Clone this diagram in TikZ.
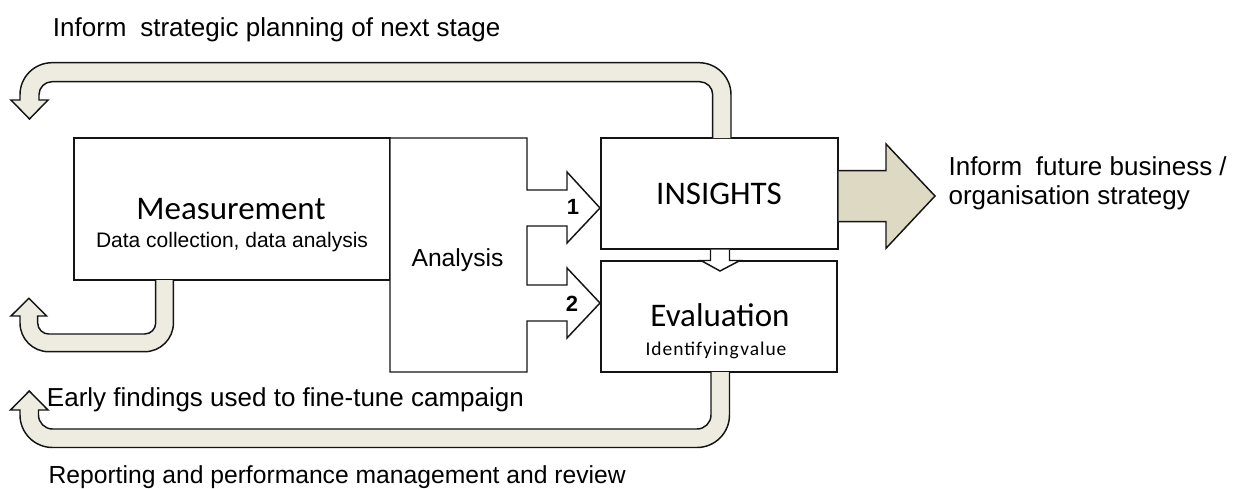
\documentclass[tikz,border=0pt]{standalone}
\usepackage{fontspec}
\setmainfont{Liberation Sans}
\newfontfamily\calfont{Carlito}
\newfontfamily\calspaced[LetterSpace=5]{Carlito}
\usetikzlibrary{fit}
\definecolor{tanlight}{RGB}{238,236,225}
\definecolor{tandark}{RGB}{221,217,195}
\definecolor{edge}{RGB}{20,20,20}
\begin{document}
\begin{tikzpicture}[x=0.75pt,y=-0.75pt,
  box/.style={draw=edge,line width=1.1pt,fill=white,inner sep=0pt},
  uarrow/.style={fill=tanlight,draw=edge,line width=1.1pt,line join=miter},
  bigarrow/.style={fill=tandark,draw=edge,line width=1.1pt},
  plain/.style={draw=edge,line width=1.1pt,fill=white,line join=miter},
  labeltxt/.style={inner sep=0pt,font=\fontsize{19.5}{23}\selectfont},
  arialtxt/.style={inner sep=0pt,font=\fontsize{18.5}{22}\selectfont},
  smalltxt/.style={inner sep=0pt,font=\fontsize{15.75}{19}\selectfont},
  numtxt/.style={inner sep=0pt,font=\fontsize{16.5}{19}\selectfont\bfseries},
  calbig/.style={inner sep=0pt,font=\fontsize{24.75}{29}\selectfont\calfont},
  calsmall/.style={inner sep=0pt,font=\fontsize{14.6}{17}\selectfont\calspaced}]
\useasboundingbox (0,0) rectangle (1236,489);

% main boxes
\node[box,fit={(74,138) (390,280)}] (meas) {};
\node[box,fit={(601,138) (838,249)}] (ins) {};
\node[box,fit={(601,261) (837,372)}] (eval) {};

% analysis block with its two outgoing arrows
\draw[plain] (390,138) -- (527,138) -- (527,190) -- (567,190) -- (567,172)
  -- (600,208) -- (567,243) -- (567,226) -- (527,226) -- (527,285)
  -- (567,285) -- (567,268) -- (600,303) -- (567,338) -- (567,321)
  -- (527,321) -- (527,372) -- (390,372) -- cycle;

% feedback loop from insights back to the start
\filldraw[uarrow] (731,138) -- (731,94.7) arc[start angle=0,end angle=-90,radius=32]
  -- (52,62.7) arc[start angle=-90,end angle=-180,radius=32]
  -- (20,100) -- (11,100) -- (29.5,119) -- (48,100) -- (39,100) -- (39,94.7)
  arc[start angle=180,end angle=270,radius=13]
  -- (699.7,81.7) arc[start angle=-90,end angle=0,radius=13]
  -- (712.7,138);

% short loop under measurement
\filldraw[uarrow] (155.7,280) -- (155.7,323) arc[start angle=0,end angle=90,radius=11]
  -- (48.7,334) arc[start angle=90,end angle=180,radius=11]
  -- (37.7,316) -- (46.7,316) -- (28.85,298.3) -- (11,316) -- (20,316) -- (20,323)
  arc[start angle=180,end angle=90,radius=28.7]
  -- (144.7,351.7) arc[start angle=90,end angle=0,radius=28.7]
  -- (173.4,280);

% long loop under evaluation
\filldraw[uarrow] (711,372) -- (711,415) arc[start angle=0,end angle=90,radius=14]
  -- (52.5,429) arc[start angle=90,end angle=180,radius=14]
  -- (38.5,410) -- (48,410) -- (29.25,391) -- (10.5,410) -- (20,410) -- (20,415)
  arc[start angle=180,end angle=90,radius=32.5]
  -- (697,447.5) arc[start angle=90,end angle=0,radius=32.5]
  -- (729.5,372);

% output arrow from insights
\filldraw[bigarrow] (ins.east |- 0,170.7) -- (886,170.7) -- (886,144) -- (935,196)
  -- (886,248.3) -- (886,221.7) -- (ins.east |- 0,221.7);

% small arrow from insights down to evaluation
\filldraw[plain] (ins.south -| 710.5,0) -- (710.5,260.5) -- (701,260.5) -- (720,271)
  -- (740,260.5) -- (729.5,260.5) -- (ins.south -| 729.5,0);

% texts
\node[labeltxt,anchor=base west] (t1) at (52.7,36.7) {Inform\hspace{0.25em} strategic planning of next stage};
\node[calbig,anchor=base] (tm) at (231,219.3) {Measurement};
\node[smalltxt,anchor=base] (tm2) at (232,247.7) {Data collection, data analysis};
\node[arialtxt,anchor=base] (ta) at (457.5,266.7) {Analysis};
\node[numtxt,anchor=base] (n1) at (573,214.3) {1};
\node[numtxt,anchor=base] (n2) at (572,311) {2};
\node[calbig,anchor=base] (ti) at (719,204.3) {INSIGHTS};
\node[calbig,anchor=base] (te) at (720,326.7) {Evaluation};
\node[calsmall,anchor=base] (te2) at (716,355.7) {Identifying\kern0.08em value};
\node[labeltxt,anchor=base west] (to1) at (948.3,175) {Inform\hspace{0.25em} future business /};
\node[labeltxt,anchor=base west] (to2) at (948.3,204.3) {organisation strategy};
\node[labeltxt,anchor=base west] (tf) at (46.7,406.7) {Early findings used to fine-tune campaign};
\node[arialtxt,anchor=base west] (tr) at (48.3,483.3) {Reporting and performance management and review};
\end{tikzpicture}
\end{document}
